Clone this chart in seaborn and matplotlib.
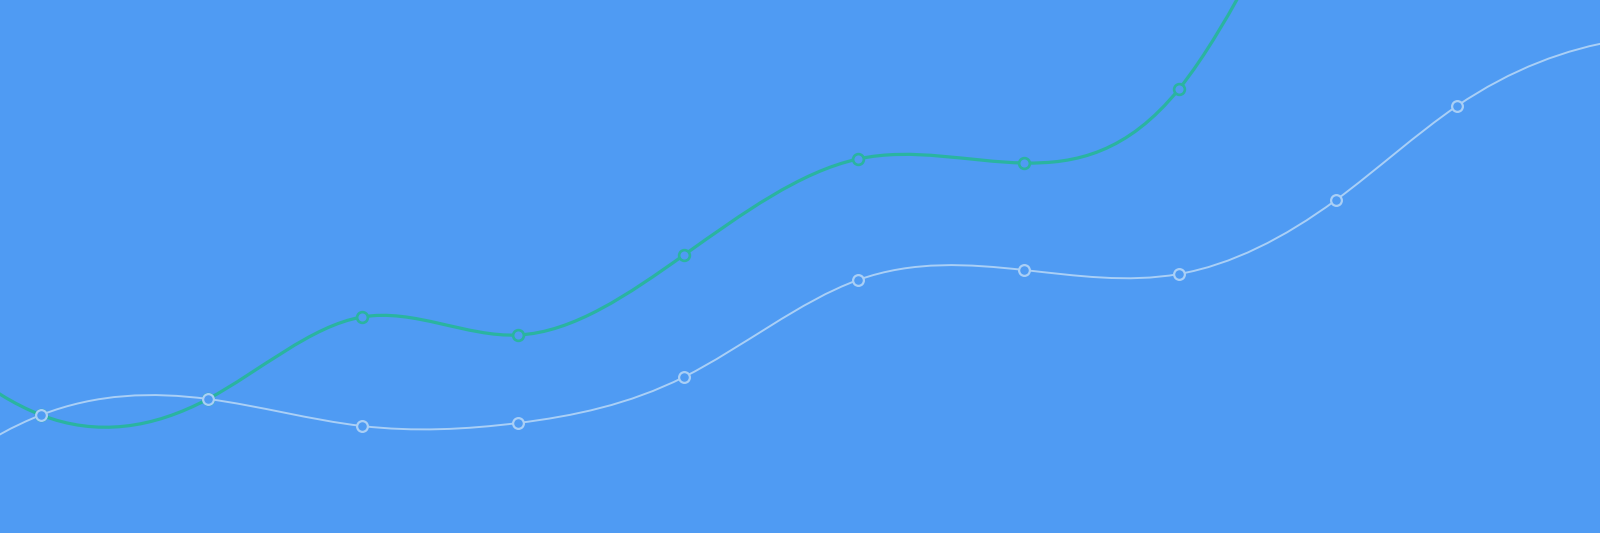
import numpy as np
import pandas as pd
import matplotlib
import matplotlib.pyplot as plt
from matplotlib.path import Path
from matplotlib.patches import PathPatch
import seaborn as sns

matplotlib.use('Agg')

# --- Data (x positions and series values) ---
x_vals = [-120, 41, 208, 362, 518, 684, 858, 1024, 1179, 1336, 1457, 1620, 1780]
light_vals = [18, 118, 134, 107, 110, 156, 253, 263, 259, 333, 427, 493, 498]
green_vals = [235, 118, 134, 216, 198, 278, 374, 370, 444, 713, 860, 950, 980]

BG = '#4f9bf3'
GREEN = '#2ab4a0'
LIGHT = '#a9cff6'


def natural_slopes(xs, ys):
    # slopes of a natural cubic spline y(x)
    n = len(xs) - 1
    h = np.diff(xs)
    d = np.diff(ys) / h
    A = np.zeros((n + 1, n + 1))
    rhs = np.zeros(n + 1)
    A[0, 0] = A[n, n] = 1
    for i in range(1, n):
        A[i, i - 1] = h[i - 1]
        A[i, i] = 2 * (h[i - 1] + h[i])
        A[i, i + 1] = h[i]
        rhs[i] = 6 * (d[i] - d[i - 1])
    M = np.linalg.solve(A, rhs)
    m = np.zeros(n + 1)
    m[:n] = d - h * (2 * M[:n] + M[1:]) / 6
    m[n] = d[-1] + h[-1] * (M[n - 1] + 2 * M[n]) / 6
    return m


def smooth_path(xs, ys):
    xs = np.asarray(xs, dtype=float)
    ys = np.asarray(ys, dtype=float)
    m = natural_slopes(xs, ys)
    verts = [(xs[0], ys[0])]
    codes = [Path.MOVETO]
    for i in range(len(xs) - 1):
        h = (xs[i + 1] - xs[i]) / 3
        verts += [(xs[i] + h, ys[i] + m[i] * h),
                  (xs[i + 1] - h, ys[i + 1] - m[i + 1] * h),
                  (xs[i + 1], ys[i + 1])]
        codes += [Path.CURVE4] * 3
    return Path(verts, codes)


df = pd.DataFrame({'x': x_vals, 'light': light_vals, 'green': green_vals})

sns.set_style('white')
fig = plt.figure(figsize=(16, 5.33), dpi=100)
fig.patch.set_facecolor(BG)
ax = fig.add_axes([0, 0, 1, 1])
ax.set_facecolor(BG)

# green series first, light series on top
ax.add_patch(PathPatch(smooth_path(df['x'], df['green']), facecolor='none',
                       edgecolor=GREEN, lw=2.3, zorder=2))
sns.scatterplot(data=df, x='x', y='green', ax=ax, s=60, color=BG,
                edgecolor=GREEN, linewidth=1.9, zorder=3)

ax.add_patch(PathPatch(smooth_path(df['x'], df['light']), facecolor='none',
                       edgecolor=LIGHT, lw=1.4, zorder=4))
sns.scatterplot(data=df, x='x', y='light', ax=ax, s=60, color=BG,
                edgecolor=LIGHT, linewidth=1.6, zorder=5)

ax.set_xlim(0, 1600)
ax.set_ylim(0, 533)
ax.set_axis_off()

plt.savefig('out.png', dpi=100, facecolor=BG)
plt.close()
